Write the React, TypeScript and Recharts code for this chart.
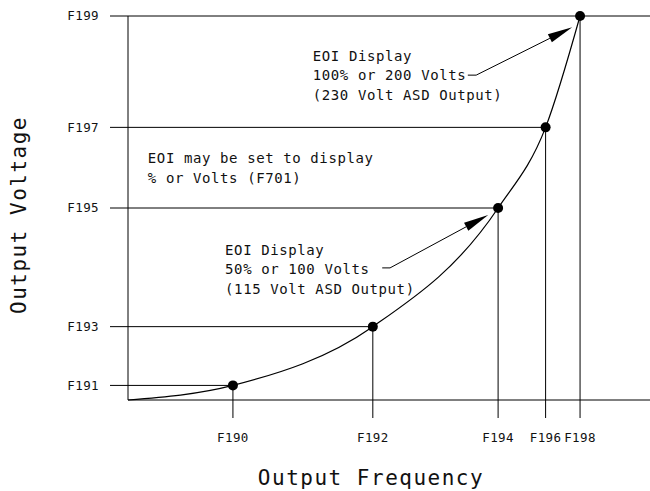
import {
  ComposedChart,
  Line,
  Scatter,
  XAxis,
  YAxis,
  ReferenceLine,
} from "recharts"

// parameter labels and where each one sits on its axis (0-100 scale)
const freqLabels = ["F190", "F192", "F194", "F196", "F198"]
const freqPos = [20.1, 46.9, 70.9, 80.0, 86.6]
const voltLabels = ["F191", "F193", "F195", "F197", "F199"]
const voltPos = [3.8, 19.1, 50.0, 71.0, 100]

// V/f curve, starting at the origin and running through the set points
const curveX = [0, 20.1, 46.9, 70.9, 80.0, 86.6]
const curveY = [0, 3.8, 19.1, 50.0, 71.0, 100]

// notes on the plot
const noteText = [
  "EOI Display",
  "100% or 200 Volts",
  "(230 Volt ASD Output)",
  "EOI may be set to display",
  "% or Volts (F701)",
  "EOI Display",
  "50% or 100 Volts",
  "(115 Volt ASD Output)",
]
const noteX = [35.4, 35.4, 35.4, 3.8, 3.8, 18.6, 18.6, 18.6]
const noteY = [88.3, 83.3, 78.1, 61.7, 56.5, 37.8, 32.8, 27.6]

// leader arrows: dash start, bend, arrow tip
const arrowFrom = [
  { x: 65.1, y: 84.6 },
  { x: 48.7, y: 34.4 },
]
const arrowBend = [
  { x: 66.7, y: 84.6 },
  { x: 50.2, y: 34.4 },
]
const arrowTip = [
  { x: 85.1, y: 97.1 },
  { x: 69.0, y: 48.2 },
]

const FONT = "'DejaVu Sans Mono', monospace"

const curve = curveX.map((x, i) => ({ x, y: curveY[i] }))
const points = freqPos.map((x, i) => ({ x, y: voltPos[i] }))
const notes = noteText.map((text, i) => ({ x: noteX[i], y: noteY[i], text }))

const ArrowShape = (props: any) => {
  const { x1, y1, x2, y2 } = props
  const a = Math.atan2(y2 - y1, x2 - x1)
  const len = 25
  const hw = 4.5
  const bx = x2 - len * Math.cos(a)
  const by = y2 - len * Math.sin(a)
  const px = -Math.sin(a) * hw
  const py = Math.cos(a) * hw
  return (
    <g>
      <line x1={x1} y1={y1} x2={bx} y2={by} stroke="#000" strokeWidth={1} />
      <polygon
        points={`${x2},${y2} ${bx + px},${by + py} ${bx - px},${by - py}`}
        fill="#000"
      />
    </g>
  )
}

const NoteShape = (props: any) => (
  <text
    x={props.cx}
    y={props.cy}
    fontFamily={FONT}
    fontSize={14}
    letterSpacing={0.6}
    fill="#111"
  >
    {props.payload.text}
  </text>
)

const tickStyle = { fontFamily: FONT, fontSize: 12.5, fill: "#111", letterSpacing: 0.4 }

export default function App() {
  return (
    <div style={{ position: "absolute", left: 0, top: 0, background: "#fff" }}>
      <ComposedChart
        width={650}
        height={491}
        margin={{ top: 16, right: 0, bottom: 0, left: 0 }}
      >
        <XAxis
          dataKey="x"
          type="number"
          domain={[0, 100]}
          ticks={freqPos}
          interval={0}
          tickFormatter={(v) => freqLabels[freqPos.indexOf(v)]}
          tickSize={18}
          tickMargin={15}
          height={91}
          stroke="#000"
          tick={tickStyle}
          tickLine={{ stroke: "#000" }}
          axisLine={{ stroke: "#000" }}
          label={{
            content: (p: any) => (
              <text
                x={p.viewBox.x + p.viewBox.width / 2 - 18}
                y={p.viewBox.y + 85}
                textAnchor="middle"
                fontFamily={FONT}
                fontSize={21}
                letterSpacing={1.5}
                fill="#111"
              >
                Output Frequency
              </text>
            ),
          }}
        />
        <YAxis
          type="number"
          domain={[0, 100]}
          ticks={voltPos}
          interval={0}
          tickFormatter={(v) => voltLabels[voltPos.indexOf(v)]}
          tickSize={18}
          tickMargin={11}
          width={128}
          stroke="#000"
          tick={tickStyle}
          tickLine={{ stroke: "#000" }}
          axisLine={{ stroke: "#000" }}
          label={{
            content: (p: any) => {
              const x = p.viewBox.x + 26
              const y = p.viewBox.y + p.viewBox.height / 2 + 7
              return (
                <text
                  x={x}
                  y={y}
                  transform={`rotate(-90, ${x}, ${y})`}
                  textAnchor="middle"
                  fontFamily={FONT}
                  fontSize={21}
                  letterSpacing={1.5}
                  fill="#111"
                >
                  Output Voltage
                </text>
              )
            },
          }}
        />

        {/* guide lines from each set point back to the axes */}
        {points.map((p, i) => (
          <ReferenceLine
            key={"h" + i}
            segment={[
              { x: 0, y: p.y },
              { x: i === points.length - 1 ? 100 : p.x, y: p.y },
            ]}
            stroke="#000"
            strokeWidth={1}
          />
        ))}
        {points.map((p, i) => (
          <ReferenceLine
            key={"v" + i}
            segment={[
              { x: p.x, y: 0 },
              { x: p.x, y: p.y },
            ]}
            stroke="#000"
            strokeWidth={1}
          />
        ))}

        {arrowFrom.map((a, i) => (
          <ReferenceLine
            key={"d" + i}
            segment={[a, arrowBend[i]]}
            stroke="#000"
            strokeWidth={1}
          />
        ))}
        {arrowBend.map((a, i) => (
          <ReferenceLine
            key={"a" + i}
            segment={[a, arrowTip[i]]}
            stroke="#000"
            shape={ArrowShape}
          />
        ))}

        <Line
          data={curve}
          dataKey="y"
          type="monotone"
          stroke="#000"
          strokeWidth={1.2}
          dot={false}
          activeDot={false}
          isAnimationActive={false}
        />
        <Scatter
          data={points}
          dataKey="y"
          fill="#000"
          shape={(p: any) => <circle cx={p.cx} cy={p.cy} r={5} fill="#000" />}
          isAnimationActive={false}
        />
        <Scatter
          data={notes}
          dataKey="y"
          shape={NoteShape}
          isAnimationActive={false}
        />
      </ComposedChart>
    </div>
  )
}
